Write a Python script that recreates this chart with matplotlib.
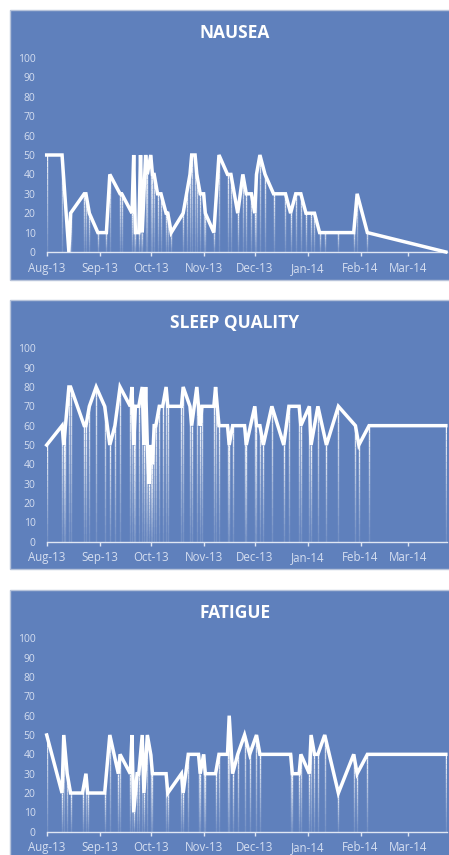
import matplotlib
matplotlib.use('Agg')
import matplotlib.pyplot as plt
import matplotlib.dates as mdates
from matplotlib.collections import LineCollection
from matplotlib.patches import Rectangle
import numpy as np
import pandas as pd

# ---------------- data ----------------
nausea_dates = ["2013-08-01", "2013-08-10", "2013-08-14", "2013-08-15", "2013-08-23", "2013-08-24",
                "2013-08-26", "2013-08-31", "2013-09-05", "2013-09-07", "2013-09-13", "2013-09-14",
                "2013-09-20", "2013-09-21", "2013-09-22", "2013-09-24", "2013-09-25", "2013-09-26",
                "2013-09-28", "2013-09-29", "2013-10-01", "2013-10-02", "2013-10-03", "2013-10-05",
                "2013-10-07", "2013-10-10", "2013-10-11", "2013-10-13", "2013-10-20", "2013-10-22",
                "2013-10-24", "2013-10-25", "2013-10-27", "2013-10-28", "2013-10-30", "2013-11-01",
                "2013-11-02", "2013-11-07", "2013-11-10", "2013-11-15", "2013-11-17", "2013-11-21",
                "2013-11-24", "2013-11-26", "2013-11-29", "2013-12-01", "2013-12-02", "2013-12-04",
                "2013-12-07", "2013-12-12", "2013-12-19", "2013-12-22", "2013-12-25", "2013-12-28",
                "2013-12-31", "2014-01-03", "2014-01-05", "2014-01-08", "2014-01-11", "2014-01-19",
                "2014-01-28", "2014-01-30", "2014-02-05", "2014-03-23"]
nausea_values = [50, 50, 0, 20, 30, 30,
                 20, 10, 10, 40, 30, 30,
                 20, 50, 10, 10, 50, 10,
                 50, 40, 50, 40, 40, 30,
                 30, 20, 20, 10, 20, 30,
                 40, 50, 50, 40, 30, 30,
                 20, 10, 50, 40, 40, 20,
                 40, 30, 30, 20, 40, 50,
                 40, 30, 30, 20, 30, 30,
                 20, 20, 20, 10, 10, 10,
                 10, 30, 10, 0]

sleep_dates = ["2013-08-01", "2013-08-10", "2013-08-11", "2013-08-12", "2013-08-14", "2013-08-15",
               "2013-08-23", "2013-08-24", "2013-08-26", "2013-08-30", "2013-09-04", "2013-09-07",
               "2013-09-10", "2013-09-13", "2013-09-19", "2013-09-20", "2013-09-21", "2013-09-22",
               "2013-09-24", "2013-09-26", "2013-09-27", "2013-09-28", "2013-09-29", "2013-09-30",
               "2013-10-01", "2013-10-02", "2013-10-03", "2013-10-04", "2013-10-06", "2013-10-08",
               "2013-10-10", "2013-10-11", "2013-10-19", "2013-10-20", "2013-10-24", "2013-10-25",
               "2013-10-28", "2013-10-30", "2013-10-31", "2013-11-07", "2013-11-08", "2013-11-10",
               "2013-11-15", "2013-11-16", "2013-11-18", "2013-11-25", "2013-11-26", "2013-12-01",
               "2013-12-02", "2013-12-04", "2013-12-06", "2013-12-11", "2013-12-18", "2013-12-21",
               "2013-12-27", "2013-12-28", "2014-01-02", "2014-01-03", "2014-01-07", "2014-01-12",
               "2014-01-19", "2014-01-29", "2014-01-31", "2014-02-06", "2014-03-23"]
sleep_values = [50, 60, 50, 60, 80, 80,
                60, 60, 70, 80, 70, 50,
                60, 80, 70, 80, 50, 70,
                70, 80, 50, 80, 50, 30,
                50, 40, 60, 60, 70, 70,
                80, 70, 70, 80, 70, 60,
                80, 60, 70, 70, 80, 60,
                60, 50, 60, 60, 50, 70,
                60, 60, 50, 70, 50, 70,
                70, 60, 70, 50, 70, 50,
                70, 60, 50, 60, 60]

fatigue_dates = ["2013-08-01", "2013-08-10", "2013-08-11", "2013-08-13", "2013-08-15", "2013-08-22",
                 "2013-08-24", "2013-08-25", "2013-09-04", "2013-09-07", "2013-09-12", "2013-09-13",
                 "2013-09-19", "2013-09-20", "2013-09-21", "2013-09-23", "2013-09-24", "2013-09-26",
                 "2013-09-27", "2013-09-29", "2013-10-01", "2013-10-02", "2013-10-10", "2013-10-11",
                 "2013-10-19", "2013-10-20", "2013-10-23", "2013-10-29", "2013-10-30", "2013-11-01",
                 "2013-11-02", "2013-11-08", "2013-11-10", "2013-11-15", "2013-11-16", "2013-11-18",
                 "2013-11-21", "2013-11-25", "2013-11-28", "2013-12-02", "2013-12-04", "2013-12-22",
                 "2013-12-23", "2013-12-27", "2013-12-28", "2014-01-02", "2014-01-03", "2014-01-05",
                 "2014-01-07", "2014-01-11", "2014-01-19", "2014-01-28", "2014-01-30", "2014-02-05",
                 "2014-03-23"]
fatigue_values = [50, 20, 50, 30, 20, 20,
                  30, 20, 20, 50, 30, 40,
                  30, 50, 10, 30, 30, 50,
                  20, 50, 40, 30, 30, 20,
                  30, 20, 40, 40, 30, 40,
                  30, 30, 40, 40, 60, 30,
                  40, 50, 40, 50, 40, 40,
                  30, 30, 40, 30, 50, 40,
                  40, 50, 20, 40, 30, 40,
                  40]

titles = ["NAUSEA", "SLEEP QUALITY", "FATIGUE"]
month_ticks = ["2013-08-01", "2013-09-01", "2013-10-01", "2013-11-01", "2013-12-01",
               "2014-01-01", "2014-02-01", "2014-03-01"]
y_ticks = [0, 10, 20, 30, 40, 50, 60, 70, 80, 90, 100]

# ---------------- style ----------------
plt.rcParams['font.family'] = ['Open Sans', 'DejaVu Sans']
W, H = 449, 855
BLUE = '#5f80bc'
TICKC = '#d5def0'
AXC = '#dfe6f3'

fig = plt.figure(figsize=(W / 100, H / 100), dpi=100)
fig.patch.set_facecolor('white')

# panel boxes (pixel: top, bottom), axes (pixel: y at 0, y at 100), title y
panel_px = [(10, 280), (300, 569), (590, 862)]
axes_px = [(252, 58), (541.7, 348.3), (831.7, 638.3)]
title_px = [33, 323, 613]

x_left_px, x_right_px = 46.7, 447.0
start = mdates.date2num(pd.Timestamp("2013-08-01"))
px_per_day = (408.3 - 46.7) / 212.0
end = start + (x_right_px - x_left_px) / px_per_day

series = [(nausea_dates, nausea_values), (sleep_dates, sleep_values), (fatigue_dates, fatigue_values)]

for i, (dates, vals) in enumerate(series):
    top, bot = panel_px[i]
    fig.patches.append(Rectangle((10 / W, 1 - bot / H), (470 - 10) / W, (bot - top) / H,
                                 transform=fig.transFigure, facecolor=BLUE,
                                 edgecolor='#b7c3da', lw=1.0, zorder=-5))
    y0, y100 = axes_px[i]
    ax = fig.add_axes([x_left_px / W, 1 - y0 / H, (x_right_px - x_left_px) / W, (y0 - y100) / H])
    ax.set_zorder(2)
    ax.set_facecolor('none')
    x = mdates.date2num(pd.to_datetime(dates))
    v = np.array(vals, dtype=float)

    # gradient drop lines
    N = 16
    segs, cols = [], []
    for xi, vi in zip(x, v):
        if vi <= 0:
            continue
        edges = np.linspace(0, vi, N + 1)
        for k in range(N):
            segs.append([(xi, edges[k]), (xi, edges[k + 1])])
            t = (k + 0.5) / N
            cols.append((1, 1, 1, 0.12 + 0.83 * t ** 1.2))
    ax.add_collection(LineCollection(segs, colors=cols, linewidths=1.0, zorder=2))

    ax.plot(x, v, color='white', lw=2.5, solid_joinstyle='miter', zorder=3, clip_on=False)

    ax.set_xlim(start, end)
    ax.set_ylim(0, 100)
    for s in ['top', 'right', 'left']:
        ax.spines[s].set_visible(False)
    ax.spines['bottom'].set_color(AXC)
    ax.spines['bottom'].set_linewidth(1.0)
    ax.set_xticks(mdates.date2num(pd.to_datetime(month_ticks)))
    ax.xaxis.set_major_formatter(mdates.DateFormatter('%b-%y'))
    ax.tick_params(axis='x', direction='out', length=3, width=1, color=AXC,
                   labelcolor=TICKC, labelsize=8.3, pad=4)
    ax.set_yticks(y_ticks)
    ax.tick_params(axis='y', length=0, labelcolor=TICKC, labelsize=7.5, pad=8)

    fig.text(235 / W, 1 - title_px[i] / H, titles[i], ha='center', va='center',
             color='white', fontsize=12.5, fontweight='bold', zorder=5)

fig.savefig('out.png', dpi=100, facecolor='white')
